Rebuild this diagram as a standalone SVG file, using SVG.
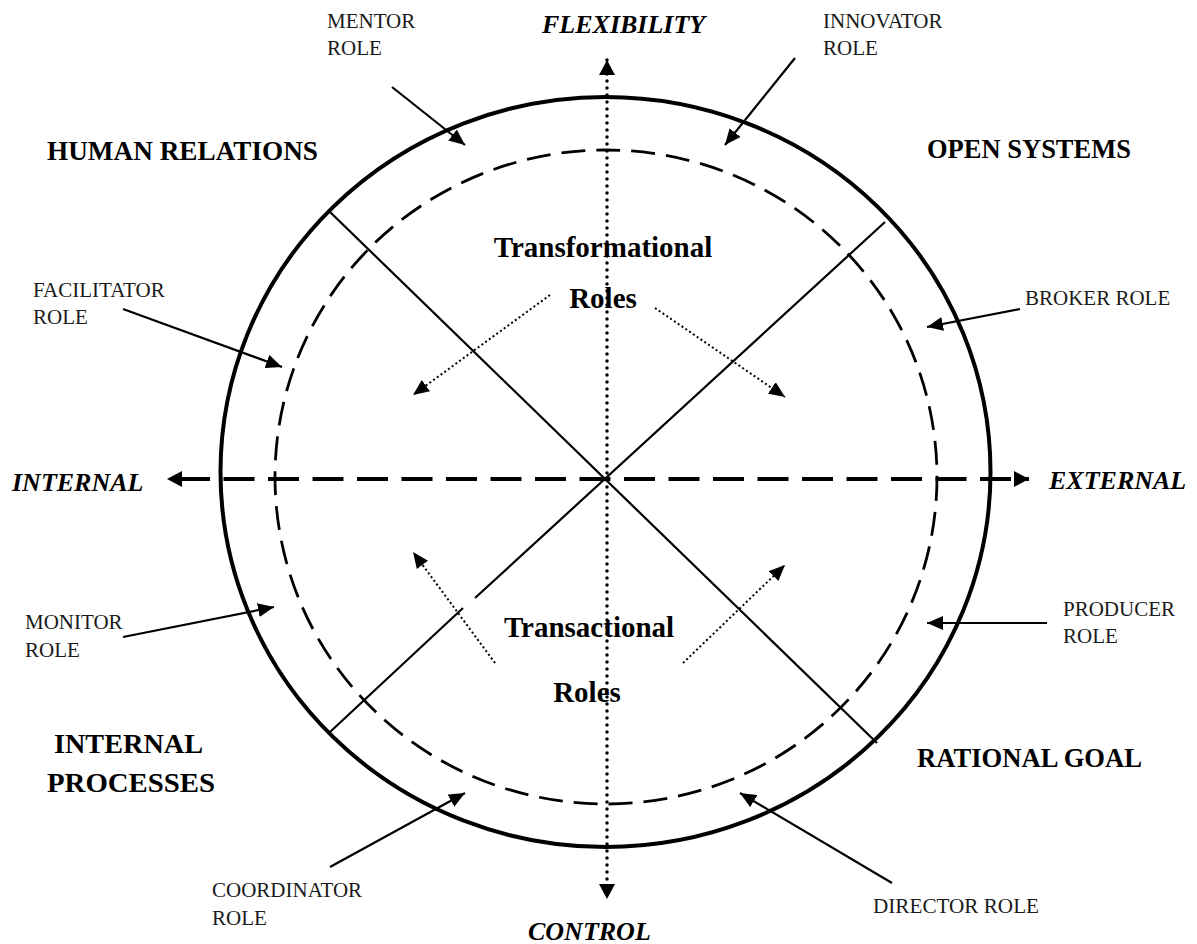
<svg xmlns="http://www.w3.org/2000/svg" width="1197" height="944" viewBox="0 0 1197 944">
<style>
.role{font-family:"Liberation Serif","Times New Roman",serif;font-size:21px;fill:#1a1a1a}
.quad{font-family:"Liberation Serif","Times New Roman",serif;font-size:27px;font-weight:bold;fill:#000}
.axis{font-family:"Liberation Serif","Times New Roman",serif;font-size:26px;font-weight:bold;font-style:italic;fill:#000}
.big{font-family:"Liberation Serif","Times New Roman",serif;font-size:29px;font-weight:bold;fill:#000;text-anchor:middle}
.solid{stroke:#000;stroke-width:2.2;fill:none}
.dotted{stroke:#000;stroke-width:2;fill:none;stroke-dasharray:2 2.6}
</style>
<defs>
<marker id="ah" viewBox="0 0 16 14" refX="16" refY="7" markerWidth="16" markerHeight="14" markerUnits="userSpaceOnUse" orient="auto"><path d="M0,0 L16,7 L0,14 z" fill="#000"/></marker>
<marker id="axh" viewBox="0 0 15 16" refX="15" refY="8" markerWidth="15" markerHeight="16" markerUnits="userSpaceOnUse" orient="auto-start-reverse"><path d="M0,0 L15,8 L0,16 z" fill="#000"/></marker>
</defs>
<rect width="1197" height="944" fill="#fff"/>
<g id="circles">
<ellipse cx="605.5" cy="472" rx="385" ry="375" fill="none" stroke="#000" stroke-width="4"/>
<ellipse cx="606" cy="477" rx="331" ry="327" fill="none" stroke="#000" stroke-width="2.8" stroke-dasharray="24 11"/>
</g>
<g id="dividers">
<line class="solid" x1="330" y1="212" x2="877" y2="743"/>
<line class="solid" x1="885" y1="222" x2="475" y2="598"/>
<line class="solid" x1="463" y1="608" x2="330" y2="732"/>
</g>
<g id="axes">
<path d="M167,479 L1029,479" stroke="#000" stroke-width="4" fill="none" stroke-dasharray="31 13.5" stroke-dashoffset="32.5" marker-start="url(#axh)" marker-end="url(#axh)"/>
<path d="M607,60 L607,899" stroke="#000" stroke-width="3.5" fill="none" stroke-dasharray="0 7" stroke-linecap="round" marker-start="url(#axh)" marker-end="url(#axh)"/>
</g>
<g id="connectors">
<line class="solid" x1="392" y1="87" x2="465" y2="145" marker-end="url(#ah)"/>
<line class="solid" x1="795" y1="58" x2="725" y2="145" marker-end="url(#ah)"/>
<line class="solid" x1="123" y1="309" x2="282" y2="367" marker-end="url(#ah)"/>
<line class="solid" x1="1020" y1="309" x2="927" y2="327" marker-end="url(#ah)"/>
<line class="solid" x1="1047" y1="623" x2="927" y2="623" marker-end="url(#ah)"/>
<line class="solid" x1="123" y1="637" x2="274" y2="607" marker-end="url(#ah)"/>
<line class="solid" x1="330" y1="867" x2="465" y2="793" marker-end="url(#ah)"/>
<line class="solid" x1="892" y1="883" x2="740" y2="793" marker-end="url(#ah)"/>
<line class="dotted" x1="550" y1="295" x2="413" y2="395" marker-end="url(#ah)"/>
<line class="dotted" x1="655" y1="308" x2="785" y2="397" marker-end="url(#ah)"/>
<line class="dotted" x1="495" y1="663" x2="413" y2="552" marker-end="url(#ah)"/>
<line class="dotted" x1="683" y1="663" x2="785" y2="565" marker-end="url(#ah)"/>
</g>
<g id="axis-labels">
<text class="axis" x="542" y="33">FLEXIBILITY</text>
<text class="axis" x="528" y="940">CONTROL</text>
<text class="axis" x="12" y="491">INTERNAL</text>
<text class="axis" x="1049" y="489">EXTERNAL</text>
</g>
<g id="quadrants">
<text class="quad" x="47" y="160" textLength="271" lengthAdjust="spacingAndGlyphs">HUMAN RELATIONS</text>
<text class="quad" x="927" y="158" textLength="204" lengthAdjust="spacingAndGlyphs">OPEN SYSTEMS</text>
<text class="quad" x="917" y="767" textLength="225" lengthAdjust="spacingAndGlyphs">RATIONAL GOAL</text>
<text class="quad" x="54" y="753" font-size="28" textLength="149" lengthAdjust="spacingAndGlyphs">INTERNAL</text>
<text class="quad" x="47" y="792" font-size="28" textLength="168" lengthAdjust="spacingAndGlyphs">PROCESSES</text>
</g>
<g id="transformational">
<text class="big" x="603" y="257">Transformational</text>
<text class="big" x="603" y="308">Roles</text>
</g>
<g id="transactional">
<text class="big" x="589" y="637">Transactional</text>
<text class="big" x="587" y="702">Roles</text>
</g>
<g id="mentor"><text class="role" x="327" y="28">MENTOR</text><text class="role" x="327" y="55">ROLE</text></g>
<g id="innovator"><text class="role" x="823" y="28">INNOVATOR</text><text class="role" x="823" y="55">ROLE</text></g>
<g id="facilitator"><text class="role" x="33" y="297">FACILITATOR</text><text class="role" x="33" y="324">ROLE</text></g>
<g id="broker"><text class="role" x="1025" y="305">BROKER ROLE</text></g>
<g id="producer"><text class="role" x="1063" y="616">PRODUCER</text><text class="role" x="1063" y="643">ROLE</text></g>
<g id="monitor"><text class="role" x="25" y="629">MONITOR</text><text class="role" x="25" y="657">ROLE</text></g>
<g id="coordinator"><text class="role" x="212" y="897">COORDINATOR</text><text class="role" x="212" y="925">ROLE</text></g>
<g id="director"><text class="role" x="873" y="913" textLength="166" lengthAdjust="spacingAndGlyphs">DIRECTOR ROLE</text></g>
</svg>
